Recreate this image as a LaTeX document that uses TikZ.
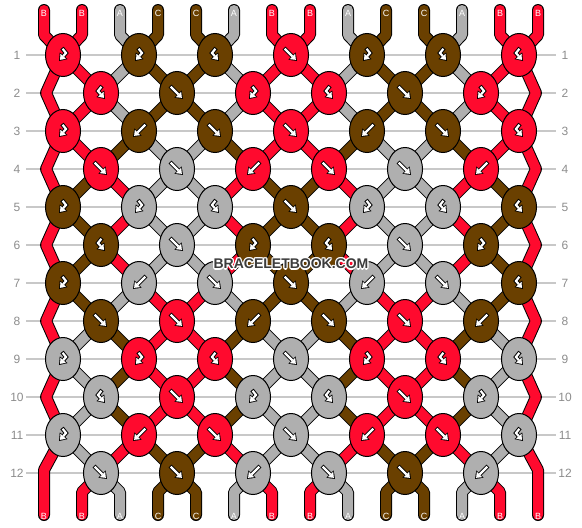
\documentclass[tikz,border=0pt]{standalone}
\usepackage{fontspec}
\setmainfont{Liberation Sans}
\usetikzlibrary{arrows.meta,shapes.geometric,backgrounds}
\definecolor{strA}{HTML}{AFAFAF}
\definecolor{strB}{HTML}{FF0A2E}
\definecolor{strC}{HTML}{6A4000}
\definecolor{rowgray}{HTML}{C8C8C8}
\definecolor{numgray}{HTML}{8C8C8C}
\definecolor{wmgray}{HTML}{3C3C3C}

\begin{document}
\begin{tikzpicture}[x=1pt,y=-1pt,
    knot/.style={ellipse,draw,line width=1pt,fill=str#1,minimum width=35pt,minimum height=43pt,inner sep=0pt},
    thread/.style={double=str#1,double distance=10pt,line width=1pt,line cap=round,line join=round},
    tag/.style={white,font=\fontsize{9}{9}\selectfont},
    rownum/.style={numgray,font=\fontsize{12}{12}\selectfont},
    rowline/.style={rowgray,line width=1.2pt},
    wmark/.style={font=\fontsize{14}{14}\selectfont\bfseries,inner sep=0pt},
    arwout/.style={line width=4.2pt,-{Triangle[length=7pt,width=10pt,line width=0.1pt]}},
    arwin/.style={white,line width=2.2pt,shorten <=1pt,shorten >=1.5pt,-{Triangle[length=4.8pt,width=7pt,line width=0.1pt]}},
    pics/fw/.style={code={\draw[arwout] (-7,-7) -- (6,6); \draw[arwin] (-7,-7) -- (6,6);}},
    pics/bw/.style={code={\draw[arwout] (7,-7) -- (-6,6); \draw[arwin] (7,-7) -- (-6,6);}},
    pics/bf/.style={code={\draw[arwout] (-1,-7) -- (3,-2) -- (-4,6); \draw[arwin] (-1,-7) -- (3,-2) -- (-4,6);}},
    pics/fb/.style={code={\draw[arwout] (1,-7) -- (-3,-2) -- (4,6); \draw[arwin] (1,-7) -- (-3,-2) -- (4,6);}}]
  \useasboundingbox (0,0) rectangle (582,528);

  % knots, row by row: colour / knot type
  \foreach \r/\row in {
      1/{B/bf,C/bf,C/fb,B/fw,C/bf,C/fb,B/fb},
      2/{B/fb,C/fw,B/bf,B/fb,C/fw,B/bf},
      3/{B/bf,C/bw,C/fw,B/fw,C/bw,C/fw,B/fb},
      4/{B/fw,A/fw,B/bw,B/fw,A/fw,B/bw},
      5/{C/bf,A/bf,A/fb,C/fw,A/bf,A/fb,C/fb},
      6/{C/fb,A/fw,C/bf,C/fb,A/fw,C/bf},
      7/{C/bf,A/bw,A/fw,C/fw,A/bw,A/fw,C/fb},
      8/{C/fw,B/fw,C/bw,C/fw,B/fw,C/bw},
      9/{A/bf,B/bf,B/fb,A/fw,B/bf,B/fb,A/fb},
      10/{A/fb,B/fw,A/bf,A/fb,B/fw,A/bf},
      11/{A/bf,B/bw,B/fw,A/fw,B/bw,B/fw,A/fb},
      12/{A/fw,C/fw,A/bw,A/fw,C/fw,A/bw}}
    \foreach \c/\t [count=\k] in \row {
      \pgfmathsetmacro\kx{isodd(\r) ? 63+76*(\k-1) : 101+76*(\k-1)}
      \node[knot=\c] (k\r-\k) at (\kx,17+38*\r) {};
      \edef\drawpic{\noexpand\pic at (k\r-\k) {\t};}
      \drawpic
    };

  % site name with a white halo
  \foreach \dx/\dy [count=\n] in {1.2/0,-1.2/0,0/1.2,0/-1.2,0.9/0.9,-0.9/0.9,0.9/-0.9,-0.9/-0.9}
    \node[wmark,text=white] (wmh\n) at (291+\dx,264+\dy) {BRACELETBOOK.COM};
  \node[wmark,text=wmgray] (wm) at (291,264) {BRACELETBOOK.COM};

  \begin{pgfonlayer}{background}
    % row lines and numbers
    \foreach \r in {1,...,12} {
      \draw[rowline] (26,17+38*\r) -- (556,17+38*\r);
      \node[rownum] (ln\r) at (17,17+38*\r) {\r};
      \node[rownum] (rn\r) at (565,17+38*\r) {\r};
    }

    % threads leaving each row (positions 2..13)
    \foreach \r/\cols in {
        1/{B,A,C,C,A,B,B,A,C,C,A,B},
        2/{B,A,C,C,A,B,B,A,C,C,A,B},
        3/{B,C,A,A,C,B,B,C,A,A,C,B},
        4/{C,B,A,A,B,C,C,B,A,A,B,C},
        5/{C,B,A,A,B,C,C,B,A,A,B,C},
        6/{C,B,A,A,B,C,C,B,A,A,B,C},
        7/{C,A,B,B,A,C,C,A,B,B,A,C},
        8/{A,C,B,B,C,A,A,C,B,B,C,A},
        9/{A,C,B,B,C,A,A,C,B,B,C,A},
        10/{A,C,B,B,C,A,A,C,B,B,C,A},
        11/{A,B,C,C,B,A,A,B,C,C,B,A}}
      \foreach \c [count=\j] in \cols {
        \pgfmathtruncatemacro\ka{isodd(\r) ? (\j+2)/2 : (\j+1)/2}
        \pgfmathtruncatemacro\kb{isodd(\r) ? (\j+1)/2 : (\j+2)/2}
        \pgfmathtruncatemacro\rb{\r+1}
        \draw[thread=\c] (k\r-\ka.center) -- (k\rb-\kb.center);
      };

    % top ends
    \foreach \c [count=\i] in {B,B,A,C,C,A,B,B,A,C,C,A,B,B} {
      \pgfmathsetmacro\sx{44+38*(\i-1)}
      \pgfmathtruncatemacro\ka{(\i+1)/2}
      \coordinate (t\i) at (\sx,10);
      \coordinate (tb\i) at (\sx,35);
      \draw[thread=\c] (t\i) -- (tb\i) -- (k1-\ka.center);
    }

    % bottom ends
    \foreach \c [count=\i] in {B,B,A,C,C,A,B,B,A,C,C,A,B,B} {
      \pgfmathsetmacro\sx{44+38*(\i-1)}
      \coordinate (b\i) at (\sx,515);
      \ifnum\i>1 \ifnum\i<14
        \pgfmathtruncatemacro\ka{\i/2}
        \coordinate (bb\i) at (\sx,492);
        \draw[thread=\c] (k12-\ka.center) -- (bb\i) -- (b\i);
      \fi\fi
    }

    % outer threads
    \foreach \r in {2,4,...,10} {
      \coordinate (eL\r) at (46,17+38*\r);
      \coordinate (eR\r) at (536,17+38*\r);
    }
    \coordinate (bL) at (44,470);
    \coordinate (bR) at (538,470);
    \draw[thread=B] (k1-1.center) -- (eL2) -- (k3-1.center) -- (eL4) -- (k5-1.center) -- (eL6)
      -- (k7-1.center) -- (eL8) -- (k9-1.center) -- (eL10) -- (k11-1.center) -- (bL) -- (b1);
    \draw[thread=B] (k1-7.center) -- (eR2) -- (k3-7.center) -- (eR4) -- (k5-7.center) -- (eR6)
      -- (k7-7.center) -- (eR8) -- (k9-7.center) -- (eR10) -- (k11-7.center) -- (bR) -- (b14);
  \end{pgfonlayer}

  % thread letters
  \foreach \c [count=\i] in {B,B,A,C,C,A,B,B,A,C,C,A,B,B} {
    \node[tag] (tl\i) at (t\i) [yshift=-3pt] {\c};
    \node[tag] (bl\i) at (b\i) [yshift=-1pt] {\c};
  }
\end{tikzpicture}
\end{document}
